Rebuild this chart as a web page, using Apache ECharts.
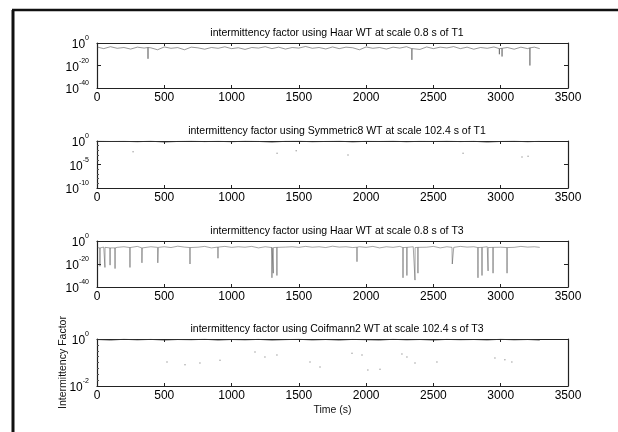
<!DOCTYPE html>
<html style="height: 100%">
<head>
    <meta charset="utf-8">
    <title>intermittency factor</title>
</head>
<body style="height: 100%; margin: 0; background: #fff">
    <div id="container" style="width: 618px; height: 432px"></div>
    <script type="text/javascript" src="https://cdn.jsdelivr.net/npm/echarts@6/dist/echarts.min.js"></script>
    <script type="text/javascript">
        // panel titles
        var titles = [
            'intermittency factor using Haar WT at scale 0.8 s of T1',
            'intermittency factor using Symmetric8 WT at scale 102.4 s of T1',
            'intermittency factor using Haar WT at scale 0.8 s of T3',
            'intermittency factor using Coifmann2 WT at scale 102.4 s of T3'
        ];
        var xTicks = [0, 500, 1000, 1500, 2000, 2500, 3000, 3500];
        // y ranges as decades (10^min .. 10^0) and major step in decades
        var yMinExp = [-40, -10, -40, -2];
        var yStep = [20, 5, 20, 2];

        // panel 1: Haar, T1
        var haar1Time = [0, 50, 100, 150, 200, 250, 300, 350, 378, 379, 380, 400, 450, 500, 550, 600, 650, 700, 750, 800,
            850, 900, 950, 1000, 1050, 1100, 1150, 1200, 1250, 1300, 1350, 1400, 1450, 1500, 1550, 1600, 1650, 1700,
            1750, 1800, 1850, 1900, 1950, 2000, 2050, 2100, 2150, 2200, 2250, 2300, 2339, 2340, 2341, 2350, 2400,
            2450, 2500, 2550, 2600, 2650, 2700, 2750, 2800, 2850, 2900, 2950, 2989, 2990, 2991, 3000, 3009, 3010,
            3011, 3050, 3100, 3150, 3200, 3216, 3217, 3218, 3250, 3290];
        var haar1Value = [3e-4, 1e-5, 5e-4, 2e-5, 1e-4, 4e-6, 2e-4, 3e-5, 1e-4, 1e-14, 1e-4, 5e-5, 1e-6, 3e-4, 2e-5, 8e-5,
            1e-6, 2e-4, 5e-5, 3e-6, 1e-4, 2e-5, 4e-4, 1e-5, 6e-5, 2e-6, 1e-4, 3e-5, 5e-4, 1e-5, 2e-4, 4e-6, 1e-4,
            3e-5, 8e-4, 2e-5, 1e-4, 5e-6, 3e-4, 1e-5, 2e-4, 6e-5, 1e-6, 3e-4, 2e-5, 1e-4, 4e-6, 2e-4, 3e-5, 5e-4,
            1e-5, 1e-15, 1e-5, 8e-5, 2e-6, 3e-4, 1e-5, 2e-4, 4e-5, 6e-4, 1e-5, 2e-4, 3e-6, 1e-4, 2e-5, 3e-4, 1e-5,
            1e-10, 1e-5, 5e-5, 2e-5, 1e-12, 2e-5, 1e-4, 3e-6, 2e-4, 1e-5, 5e-5, 1e-20, 5e-5, 2e-4, 1e-5];

        // panel 2: Symmetric8, T1
        var sym1Time = [0, 100, 200, 300, 400, 500, 600, 700, 800, 900, 1000, 1100, 1200, 1300, 1400, 1500, 1600, 1700,
            1800, 1900, 2000, 2100, 2200, 2300, 2400, 2500, 2600, 2700, 2800, 2900, 3000, 3100, 3200, 3290];
        var sym1Value = [0.9, 0.8, 0.85, 0.7, 0.9, 0.6, 0.8, 0.9, 0.75, 0.85, 0.7, 0.9, 0.8, 0.6, 0.85, 0.9, 0.7, 0.8,
            0.9, 0.65, 0.85, 0.8, 0.9, 0.7, 0.85, 0.8, 0.9, 0.75, 0.85, 0.6, 0.8, 0.9, 0.7, 0.85];
        var sym1DotTime = [268, 1338, 1480, 1865, 2720, 3158, 3203];
        var sym1DotValue = [5e-3, 2.5e-3, 8e-3, 1e-3, 2.5e-3, 4e-4, 6e-4];

        // panel 3: Haar, T3
        var haar3Time = [0, 21, 22, 23, 50, 58, 59, 60, 96, 97, 98, 100, 133, 134, 135, 150, 200, 244, 245, 246, 250, 300,
            333, 334, 335, 336, 350, 400, 450, 452, 454, 456, 500, 550, 600, 650, 690, 691, 692, 700, 750, 800, 850,
            898, 899, 900, 950, 1000, 1050, 1100, 1150, 1200, 1250, 1299, 1300, 1301, 1309, 1310, 1311, 1336, 1337,
            1338, 1350, 1400, 1450, 1500, 1550, 1600, 1650, 1700, 1750, 1800, 1850, 1900, 1931, 1932, 1933, 1950,
            2000, 2050, 2100, 2150, 2200, 2250, 2273, 2274, 2275, 2302, 2303, 2304, 2350, 2362, 2363, 2364, 2384,
            2385, 2386, 2400, 2450, 2500, 2550, 2600, 2638, 2640, 2643, 2646, 2649, 2651, 2700, 2750, 2800, 2830,
            2831, 2832, 2860, 2861, 2862, 2900, 2905, 2906, 2907, 2942, 2943, 2944, 2950, 3000, 3046, 3047, 3048,
            3050, 3100, 3150, 3200, 3250, 3290];
        var haar3Value = [2e-6, 1e-6, 1e-22, 1e-6, 5e-6, 3e-6, 1e-23, 3e-6, 1e-6, 1e-21, 1e-6, 2e-5, 1e-6, 1e-24, 1e-6,
            3e-6, 1e-5, 2e-6, 1e-23, 2e-6, 5e-6, 2e-5, 1e-6, 1e-19, 1e-18, 1e-6, 4e-6, 1e-5, 3e-6, 1e-19, 1e-18, 3e-6,
            1e-5, 2e-6, 3e-5, 5e-6, 2e-6, 1e-20, 2e-6, 1e-5, 4e-6, 2e-5, 1e-6, 5e-6, 1e-15, 5e-6, 2e-5, 3e-6, 1e-5,
            4e-6, 2e-5, 1e-6, 1e-5, 2e-6, 1e-32, 2e-6, 2e-6, 1e-28, 2e-6, 3e-6, 1e-30, 3e-6, 2e-5, 5e-6, 1e-5, 3e-6,
            2e-5, 4e-6, 1e-5, 2e-6, 3e-5, 5e-6, 1e-5, 2e-6, 4e-6, 1e-18, 4e-6, 1e-5, 3e-6, 2e-5, 1e-6, 1e-5, 3e-6,
            2e-5, 2e-6, 1e-32, 2e-6, 3e-6, 1e-30, 3e-6, 1e-5, 2e-6, 1e-34, 2e-6, 3e-6, 1e-28, 3e-6, 1e-5, 4e-6, 2e-5,
            1e-6, 1e-5, 3e-6, 1e-20, 1e-21, 1e-20, 1e-19, 3e-6, 2e-5, 5e-6, 1e-5, 2e-6, 1e-32, 2e-6, 3e-6, 1e-30,
            3e-6, 1e-5, 2e-6, 1e-26, 2e-6, 3e-6, 1e-28, 3e-6, 1e-5, 4e-6, 2e-6, 1e-28, 2e-6, 1e-5, 3e-6, 2e-5, 5e-6,
            1e-5, 3e-6];

        // panel 4: Coifmann2, T3
        var coif3Time = [0, 100, 200, 300, 400, 500, 600, 700, 800, 900, 1000, 1100, 1200, 1300, 1400, 1500, 1600, 1700,
            1800, 1900, 2000, 2100, 2200, 2300, 2400, 2500, 2600, 2700, 2800, 2900, 3000, 3100, 3200, 3290];
        var coif3Value = [0.95, 0.9, 0.97, 0.92, 0.96, 0.9, 0.95, 0.93, 0.97, 0.9, 0.95, 0.92, 0.96, 0.9, 0.94, 0.97,
            0.91, 0.95, 0.9, 0.96, 0.93, 0.9, 0.97, 0.92, 0.95, 0.9, 0.96, 0.93, 0.95, 0.91, 0.97, 0.92, 0.95, 0.9];
        var coif3DotTime = [520, 654, 765, 914, 1174, 1248, 1337, 1583, 1657, 1895, 1969, 2013, 2103, 2266, 2303, 2363,
            2526, 2957, 3031, 3083];
        var coif3DotValue = [0.105, 0.08, 0.095, 0.125, 0.28, 0.17, 0.21, 0.105, 0.065, 0.25, 0.21, 0.048, 0.052, 0.23,
            0.17, 0.095, 0.105, 0.155, 0.13, 0.105];

        // log10 axes are drawn as value axes on the exponent
        function pairs(t, v) {
            return t.map(function (x, i) { return [x, Math.log10(v[i])]; });
        }

        var dom = document.getElementById('container');
        var myChart = echarts.init(dom);

        var gridTops = [43, 141, 241, 339];
        var gridHeights = [45, 47, 46, 47];
        var font = 'Liberation Sans, Arial, sans-serif';
        var axisColor = '#222';

        var grid = [], xAxis = [], yAxis = [], title = [];
        for (var i = 0; i < 4; i++) {
            grid.push({ left: 97, width: 471, top: gridTops[i], height: gridHeights[i] });
            title.push({
                text: titles[i], left: 332, top: gridTops[i] - 20, textAlign: 'center',
                textStyle: { fontFamily: font, fontSize: 10.5, fontWeight: 'normal', color: '#000' }
            });
        }
        // bottom x axes (labelled)
        for (var i = 0; i < 4; i++) {
            xAxis.push({
                gridIndex: i, type: 'value', position: 'bottom', min: xTicks[0], max: xTicks[xTicks.length - 1], interval: 500,
                axisLine: { onZero: false, lineStyle: { color: axisColor, width: 1.2 } },
                axisTick: { inside: true, length: 3, lineStyle: { color: axisColor } },
                axisLabel: {
                    color: '#000', fontFamily: font, fontSize: 12, margin: 4, showMinLabel: true, showMaxLabel: true,
                    formatter: function (v) { return String(v); }
                },
                splitLine: { show: false },
                name: i === 3 ? 'Time (s)' : '', nameLocation: 'middle', nameGap: 19,
                nameTextStyle: { color: '#111', fontFamily: font, fontSize: 10.5 }
            });
        }
        // top x axes (box)
        for (var i = 0; i < 4; i++) {
            xAxis.push({
                gridIndex: i, type: 'value', position: 'top', min: 0, max: 3500, interval: 500,
                axisLine: { onZero: false, lineStyle: { color: axisColor, width: 1.2 } },
                axisTick: { inside: true, length: 3, lineStyle: { color: axisColor } },
                axisLabel: { show: false }, splitLine: { show: false }
            });
        }
        // left y axes (labelled)
        for (var i = 0; i < 4; i++) {
            yAxis.push({
                gridIndex: i, type: 'value', position: 'left', min: yMinExp[i], max: 0, interval: yStep[i],
                axisLine: { onZero: false, lineStyle: { color: axisColor, width: 1.2 } },
                axisTick: { inside: true, length: 4, lineStyle: { color: axisColor } },
                minorTick: { show: i === 1 || i === 3, splitNumber: i === 1 ? 5 : 8, length: 2, lineStyle: { color: '#555' } },
                axisLabel: {
                    margin: 8, showMinLabel: true, showMaxLabel: true,
                    formatter: function (v) {
                        return '{b|10}{s|' + Math.round(v) + '}';
                    },
                    rich: {
                        b: { fontFamily: font, fontSize: 12, color: '#000', verticalAlign: 'bottom', lineHeight: 16 },
                        s: { fontFamily: font, fontSize: 7, color: '#000', verticalAlign: 'top', lineHeight: 16 }
                    }
                },
                splitLine: { show: false },
                name: i === 3 ? 'Intermittency Factor' : '', nameLocation: 'middle', nameGap: 28,
                nameMoveOverlap: false,
                nameTextStyle: { color: '#111', fontFamily: font, fontSize: 10.5 }
            });
        }
        // right y axes (box)
        for (var i = 0; i < 4; i++) {
            yAxis.push({
                gridIndex: i, type: 'value', position: 'right', min: yMinExp[i], max: 0, interval: yStep[i],
                axisLine: { onZero: false, lineStyle: { color: axisColor, width: 1.2 } },
                axisTick: { inside: true, length: 4, lineStyle: { color: axisColor } },
                axisLabel: { show: false }, splitLine: { show: false }
            });
        }

        var option = {
            animation: false,
            backgroundColor: '#fff',
            title: title,
            grid: grid,
            xAxis: xAxis,
            yAxis: yAxis,
            graphic: [
                { type: 'line', shape: { x1: 12, y1: 10, x2: 618, y2: 10 }, style: { stroke: '#111', lineWidth: 2.5 } },
                { type: 'line', shape: { x1: 13, y1: 10, x2: 13, y2: 432 }, style: { stroke: '#111', lineWidth: 3 } }
            ],
            series: [
                {
                    type: 'line', xAxisIndex: 0, yAxisIndex: 0, data: pairs(haar1Time, haar1Value),
                    showSymbol: false, lineStyle: { color: '#444', width: 0.7, opacity: 0.8 }
                },
                {
                    type: 'line', xAxisIndex: 1, yAxisIndex: 1, data: pairs(sym1Time, sym1Value),
                    showSymbol: false, lineStyle: { color: '#333', width: 0.8 }
                },
                {
                    type: 'scatter', xAxisIndex: 1, yAxisIndex: 1, data: pairs(sym1DotTime, sym1DotValue),
                    symbolSize: 1.5, itemStyle: { color: '#888' }
                },
                {
                    type: 'line', xAxisIndex: 2, yAxisIndex: 2, data: pairs(haar3Time, haar3Value),
                    showSymbol: false, lineStyle: { color: '#444', width: 0.6, opacity: 0.8 }
                },
                {
                    type: 'line', xAxisIndex: 3, yAxisIndex: 3, data: pairs(coif3Time, coif3Value),
                    showSymbol: false, lineStyle: { color: '#333', width: 0.8 }
                },
                {
                    type: 'scatter', xAxisIndex: 3, yAxisIndex: 3, data: pairs(coif3DotTime, coif3DotValue),
                    symbolSize: 1.5, itemStyle: { color: '#888' }
                }
            ]
        };
        myChart.setOption(option);
    </script>
</body>
</html>
